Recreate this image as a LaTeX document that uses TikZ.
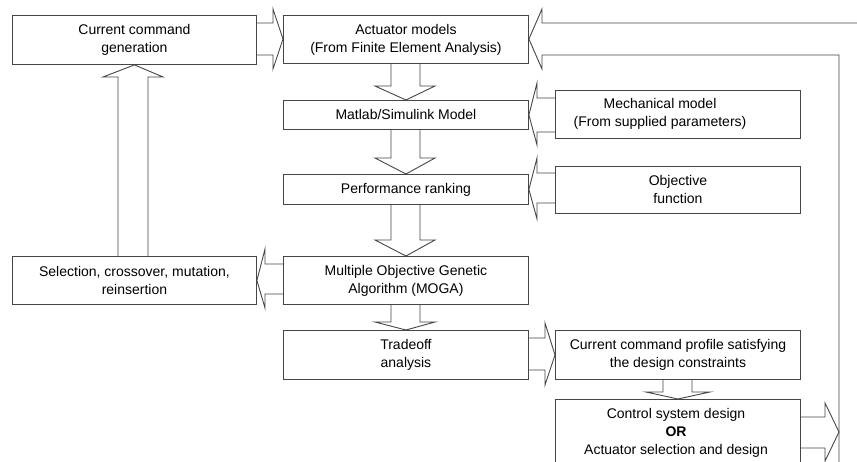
\documentclass[tikz,border=0pt]{standalone}
\usepackage{fontspec}
\setmainfont{Liberation Sans}
\usetikzlibrary{calc}
\definecolor{lc}{RGB}{70,70,70}
\begin{document}
\begin{tikzpicture}[x=1pt,y=-1pt,
  box/.style={draw=lc, line width=0.9pt, fill=white, inner sep=0pt, align=center,
    font=\fontsize{14}{18}\selectfont, anchor=north west},
  txt/.style={align=center, font=\fontsize{14}{18}\selectfont, inner sep=0pt},
  barrow/.style={draw=lc, line width=0.9pt, line join=miter}]
\path[use as bounding box, fill=white] (0,0) rectangle (857,462);
\clip (0,0) rectangle (857,462);

% boxes
\node[box, minimum width=244pt, minimum height=49pt] (b1) at (12,15) {Current command\\generation};
\node[box, minimum width=245pt, minimum height=48pt] (b2) at (283,15) {Actuator models\\(From Finite Element Analysis)};
\node[box, minimum width=245pt, minimum height=29pt] (b3) at (283,100) {Matlab/Simulink Model};
\node[box, minimum width=245pt, minimum height=48pt] (b4) at (555,90) {};
\node[txt] (t4) at (660,114) {Mechanical model\\(From supplied parameters)};
\node[box, minimum width=245pt, minimum height=30pt] (b5) at (283,174) {Performance ranking};
\node[box, minimum width=245pt, minimum height=47pt] (b6) at (555,166) {Objective\\function};
\node[box, minimum width=244pt, minimum height=48pt] (b7) at (12,256) {Selection, crossover, mutation,\\reinsertion};
\node[box, minimum width=245pt, minimum height=48pt] (b8) at (283,256) {Multiple Objective Genetic\\Algorithm (MOGA)};
\node[box, minimum width=245pt, minimum height=49pt] (b9) at (283,330) {Tradeoff\\analysis};
\node[box, minimum width=245pt, minimum height=49pt] (b10) at (555,330) {Current command profile satisfying\\the design constraints};
\node[box, minimum width=245pt, minimum height=68pt] (b11) at (555,399) {};
\node[txt] (t11) at (676,433) {Control system design\\\textbf{OR}\\Actuator selection and design};

\coordinate (rtop) at (880,23);
\coordinate (rbot) at (839,490);
\coordinate (rtip) at (839,432);

% b1 -> b2
\draw[barrow] (b1.east |- 0,23) -- (273,23) -- (273,9) -- (b2.west |- 0,39) -- (273,69) -- (273,55) -- (b1.east |- 0,55);
% feedback into b2 from the right
\draw[barrow] (rtop) -- (542,23) -- (542,9) -- (b2.east |- 0,39) -- (542,69) -- (542,55) -- (839,55) -- (rbot);
% b2 -> b3
\draw[barrow] (b2.south -| 391,0) -- (391,86) -- (375,86) -- (b3.north) -- (435,86) -- (420,86) -- (b2.south -| 420,0);
% b4 -> b3
\draw[barrow] (b4.west |- 0,98) -- (537,98) -- (537,83) -- (b3.east) -- (537,145) -- (537,132) -- (b4.west |- 0,132);
% b3 -> b5
\draw[barrow] (b3.south -| 391,0) -- (391,158) -- (375,158) -- (b5.north) -- (435,158) -- (420,158) -- (b3.south -| 420,0);
% b6 -> b5
\draw[barrow] (b6.west |- 0,173) -- (537,173) -- (537,158) -- (b5.east) -- (537,219) -- (537,203) -- (b6.west |- 0,203);
% b5 -> b8
\draw[barrow] (b5.south -| 391,0) -- (391,240) -- (375,240) -- (b8.north) -- (435,240) -- (420,240) -- (b5.south -| 420,0);
% b8 -> b7
\draw[barrow] (b8.west |- 0,264) -- (265,264) -- (265,249) -- (b7.east) -- (265,308) -- (265,294) -- (b8.west |- 0,294);
% b7 -> b1
\draw[barrow] (b7.north -| 118,0) -- (118,77) -- (103,77) -- (b1.south) -- (163,77) -- (148,77) -- (b7.north -| 148,0);
% b8 -> b9
\draw[barrow] (b8.south -| 391,0) -- (391,322) -- (375,322) -- (b9.north) -- (435,322) -- (420,322) -- (b8.south -| 420,0);
% b9 -> b10
\draw[barrow] (b9.east |- 0,338) -- (545,338) -- (545,323) -- (b10.west) -- (545,385) -- (545,370) -- (b9.east |- 0,370);
% b10 -> b11
\draw[barrow] (b10.south -| 663,0) -- (663,392) -- (646,392) -- (b11.north) -- (710,392) -- (692,392) -- (b10.south -| 692,0);
% b11 -> right line
\draw[barrow] (b11.east |- 0,417) -- (825,417) -- (825,403) -- (rtip) -- (825,461) -- (825,448) -- (b11.east |- 0,448);
\end{tikzpicture}
\end{document}
